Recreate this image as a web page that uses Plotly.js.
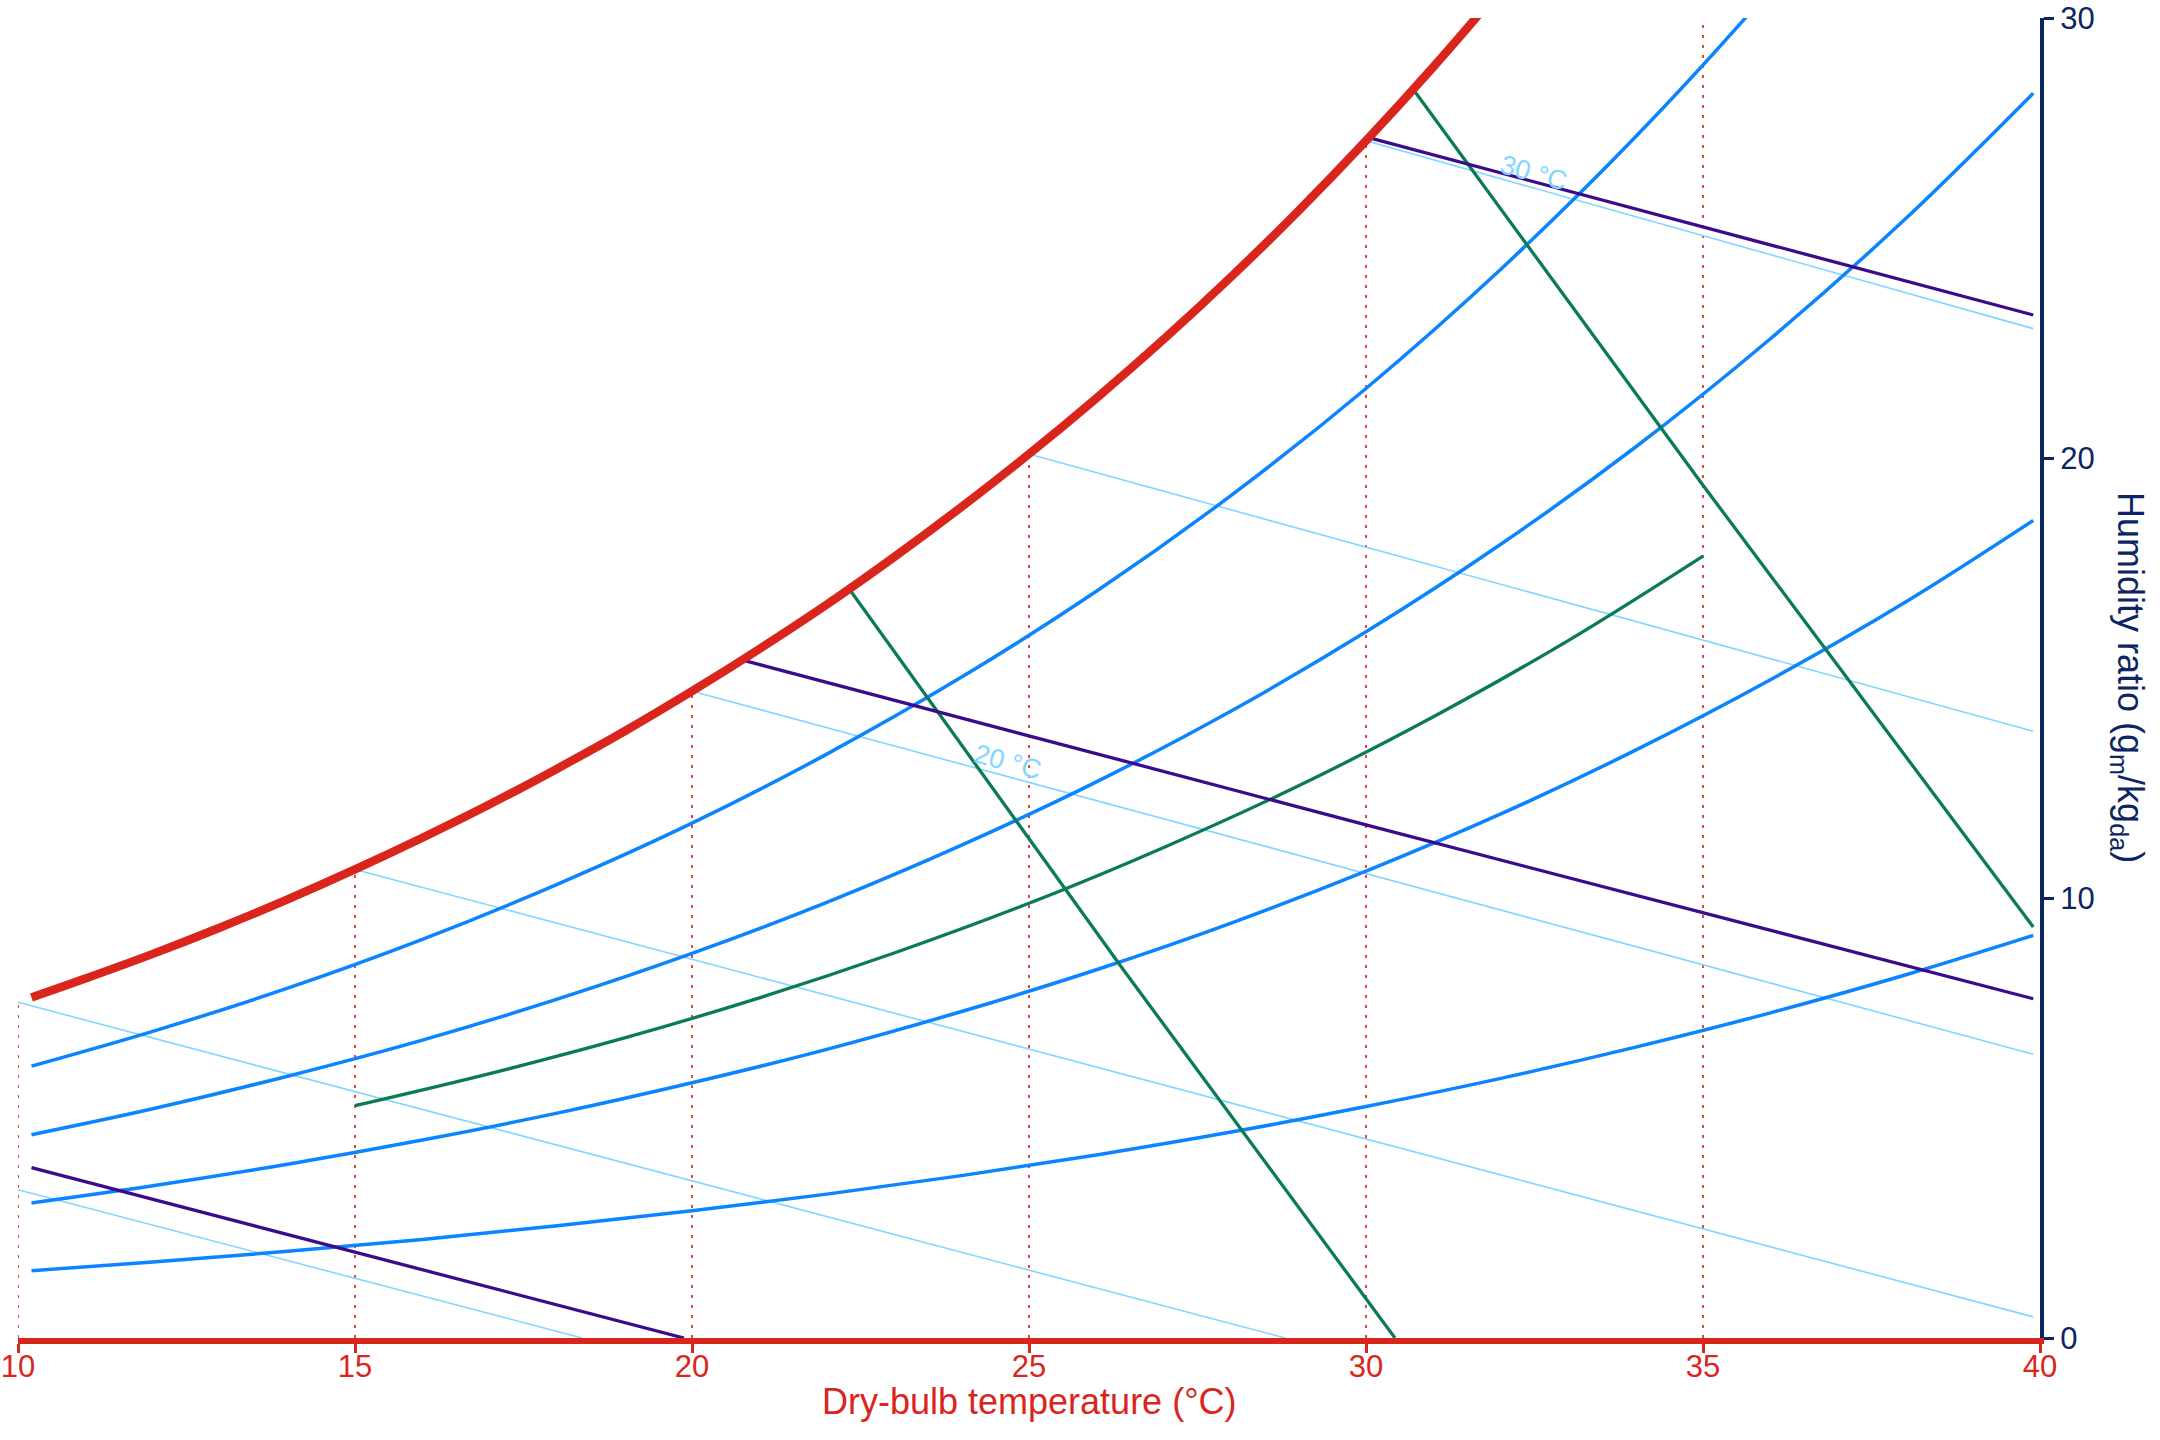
<!DOCTYPE html>
<html>
<head>
<meta charset="utf-8">
<script src="https://cdn.plot.ly/plotly-3.0.1.min.js"></script>
<style>html,body{margin:0;padding:0;background:#fff;}#chart{width:2160px;height:1440px;}</style>
</head>
<body>
<div id="chart"></div>
<script>
// ---- Data (humidity ratio in g/kg dry air) ----
const xTickVals = [10, 15, 20, 25, 30, 35, 40];
const yTickVals = [0, 10, 20, 30];

// saturation curve
const satT = [10.2, 11, 12, 13, 14, 15, 16, 17, 18, 19, 20, 21, 22, 23, 24, 25, 26, 27, 28, 29, 30, 31, 32];
const satW = [7.74, 8.17, 8.73, 9.33, 9.97, 10.65, 11.37, 12.13, 12.94, 13.79, 14.70, 15.66, 16.67, 17.75, 18.89, 20.09, 21.36, 22.70, 24.12, 25.62, 27.21, 28.89, 30.66];

// relative humidity curves (blue)
const rhT   = [10.2, 12, 14, 16, 18, 20, 22, 24, 26, 28, 30, 32, 34, 36, 38, 39.9];
const rh80W = [6.18, 6.97, 7.95, 9.06, 10.31, 11.70, 13.27, 15.02, 16.97, 19.15, 21.58, 24.29, 27.30, 30.65, 34.37, 38.30];
const rh60W = [4.62, 5.21, 5.95, 6.77, 7.70, 8.74, 9.90, 11.20, 12.64, 14.25, 16.05, 18.04, 20.25, 22.71, 25.43, 28.29];
const rh40W = [3.07, 3.46, 3.95, 4.50, 5.11, 5.80, 6.56, 7.42, 8.37, 9.43, 10.61, 11.91, 13.36, 14.96, 16.72, 18.58];
const rh20W = [1.53, 1.73, 1.97, 2.24, 2.55, 2.89, 3.27, 3.69, 4.16, 4.68, 5.26, 5.90, 6.61, 7.39, 8.25, 9.15];

// 50 % relative humidity curve (green)
const rh50T = [15, 17, 19, 21, 23, 25, 27, 29, 31, 33, 35];
const rh50W = [5.28, 6.01, 6.82, 7.73, 8.75, 9.88, 11.15, 12.55, 14.12, 15.85, 17.77];

// specific volume lines (green)
const vol086T = [22.33, 26.4, 30.43];
const vol086W = [17.03, 8.37, 0];
const vol090T = [30.70, 35, 39.9];
const vol090W = [28.38, 19.38, 9.34];

// enthalpy lines (purple)
const h20T  = [10.2, 19.88];
const h20W  = [3.87, 0];
const h60T  = [20.74, 30, 39.9];
const h60W  = [15.41, 11.66, 7.71];
const h100T = [30.04, 39.9];
const h100W = [27.28, 23.25];

// wet-bulb lines (light blue)
const wb5T  = [10, 18.37];   const wb5W  = [3.37, 0];
const wb10T = [10, 28.80];   const wb10W = [7.63, 0];
const wb15T = [15, 39.9];    const wb15W = [10.65, 0.48];
const wb20T = [20, 39.9];    const wb20W = [14.70, 6.45];
const wb25T = [25, 39.9];    const wb25W = [20.09, 13.79];
const wb30T = [30, 39.9];    const wb30W = [27.21, 22.94];

// wet-bulb labels
const wbLabelText = ["20 °C", "30 °C"];
const wbLabelT    = [24.69, 32.49];
const wbLabelW    = [13.09, 26.48];
const wbLabelAngle = [15.2, 15.7];

// dotted dry-bulb guides
const guideT   = [10, 15, 20, 25, 30, 35];
const guideTop = [7.63, 10.65, 14.70, 20.09, 27.21, 30];

// ---- Styling ----
const FONT = "Liberation Sans, Arial, Helvetica, sans-serif";
const RED = "#da251d";
const NAVY = "#0b2462";
const BLUE = "#0a84ff";
const GREEN = "#0b7a57";
const PURPLE = "#3c0b8c";
const LIGHT = "#80d6ff";

const traces = [];
function line(x, y, lineStyle) {
  traces.push({
    type: "scatter", mode: "lines", x: x, y: y,
    line: lineStyle, hoverinfo: "skip", showlegend: false
  });
}

guideT.forEach((t, i) => {
  line([t, t], [0, guideTop[i]], {color: "#e2463f", width: 2, dash: "3px,7px"});
});

[[wb5T, wb5W], [wb10T, wb10W], [wb15T, wb15W], [wb20T, wb20W], [wb25T, wb25W], [wb30T, wb30W]]
  .forEach(p => line(p[0], p[1], {color: LIGHT, width: 1.6}));

[rh80W, rh60W, rh40W, rh20W].forEach(w =>
  line(rhT, w, {color: BLUE, width: 3.5, shape: "spline", smoothing: 1}));

line(rh50T, rh50W, {color: GREEN, width: 3.3, shape: "spline", smoothing: 1});
line(vol086T, vol086W, {color: GREEN, width: 3.3});
line(vol090T, vol090W, {color: GREEN, width: 3.3});

line(h20T, h20W, {color: PURPLE, width: 3.3});
line(h60T, h60W, {color: PURPLE, width: 3.3});
line(h100T, h100W, {color: PURPLE, width: 3.3});

line(satT, satW, {color: RED, width: 8.5, shape: "spline", smoothing: 1});

const annotations = wbLabelText.map((t, i) => ({
  x: wbLabelT[i], y: wbLabelW[i], xref: "x", yref: "y",
  text: t, showarrow: false, textangle: wbLabelAngle[i],
  font: {family: FONT, size: 27, color: LIGHT},
  xanchor: "center", yanchor: "middle"
}));

annotations.push({
  xref: "paper", yref: "paper", x: 1.0435, y: 0.5,
  text: "Humidity ratio (g<sub>m</sub>/kg<sub>da</sub>)",
  showarrow: false, textangle: 90,
  font: {family: FONT, size: 36, color: NAVY},
  xanchor: "center", yanchor: "middle"
});
annotations.push({
  xref: "paper", yref: "paper", x: 0.5, y: -0.048,
  text: "Dry-bulb temperature (°C)",
  showarrow: false,
  font: {family: FONT, size: 36, color: RED},
  xanchor: "center", yanchor: "middle"
});

const layout = {
  width: 2160, height: 1440,
  margin: {l: 18, r: 120, t: 18, b: 102, pad: 0},
  paper_bgcolor: "#ffffff", plot_bgcolor: "#ffffff",
  font: {family: FONT},
  showlegend: false,
  xaxis: {
    range: [10, 40], tickvals: xTickVals, ticktext: xTickVals.map(String),
    showgrid: false, zeroline: false,
    showline: true, linecolor: RED, linewidth: 5.5,
    ticks: "outside", ticklen: 9, tickwidth: 3, tickcolor: RED,
    ticklabelstandoff: -13,
    tickfont: {family: FONT, size: 31, color: RED}
  },
  yaxis: {
    range: [0, 30], side: "right", tickvals: yTickVals, ticktext: yTickVals.map(String),
    showgrid: false, zeroline: false,
    showline: true, linecolor: NAVY, linewidth: 4,
    ticks: "outside", ticklen: 10, tickwidth: 3, tickcolor: NAVY,
    tickfont: {family: FONT, size: 31, color: NAVY}
  },
  annotations: annotations
};

Plotly.newPlot("chart", traces, layout, {staticPlot: true, displayModeBar: false});
</script>
</body>
</html>
